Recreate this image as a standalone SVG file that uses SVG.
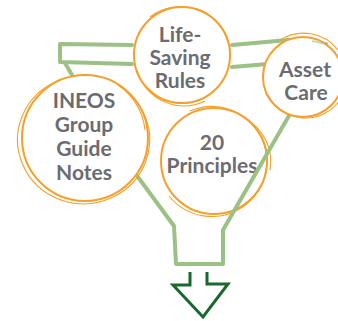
<svg xmlns="http://www.w3.org/2000/svg" width="338" height="321" viewBox="0 0 338 321">
<style>
.bg{fill:#ffffff}
.c1{fill:#ffffff;stroke:#f5a02c;stroke-width:2}
.c2{fill:none;stroke:#f5a02c;stroke-width:1.1}
.f{fill:none;stroke:#9cc184;stroke-width:4;stroke-linecap:round;stroke-linejoin:round}
.ar{fill:none;stroke:#17692d;stroke-width:3;stroke-linejoin:miter}
.t{font-family:Lato,"Liberation Sans",sans-serif;font-weight:bold;font-size:21px;fill:#6b6c70;text-anchor:middle}
</style>
<rect class="bg" x="0" y="0" width="338" height="321"/>
<g id="principles">
<circle class="c1" cx="214" cy="161" r="53"/>
<path class="c2" d="M190 111 A55 55 0 1 1 169 196"/>
<path class="c2" d="M245 118 A57 52 0 0 1 270 170"/>
<text class="t" x="212" y="150">20</text>
<text class="t" x="212" y="173">Principles</text>
</g>
<g id="connectors">
<path class="f" d="M132 45 L60 44 L60 62 L132 64"/>
<path class="f" d="M65 63 L72 75 L135 173 L174 226 L176 264 L223 264 L223 230 L290 114"/>
<path class="f" d="M232 45 L288 40 L326 44"/>
<path class="f" d="M232 67 L268 64"/>
</g>
<g id="ineos">
<circle class="c1" cx="85" cy="138" r="63"/>
<path class="c2" d="M60 80 A66 64 0 1 0 142 110"/>
<path class="c2" d="M118 85 A62 62 0 0 1 145 130"/>
<text class="t" x="84" y="108">INEOS</text>
<text class="t" x="84" y="132">Group</text>
<text class="t" x="84" y="156">Guide</text>
<text class="t" x="84" y="180">Notes</text>
</g>
<g id="life">
<circle class="c1" cx="182" cy="55" r="48"/>
<path class="c2" d="M150 17 A50 50 0 0 1 230 50"/>
<path class="c2" d="M137 70 A49 50 0 0 0 205 101"/>
<text class="t" x="180" y="42">Life-</text>
<text class="t" x="180" y="65">Saving</text>
<text class="t" x="180" y="88">Rules</text>
</g>
<g id="asset">
<circle class="c1" cx="303" cy="77" r="40"/>
<path class="c2" d="M268 95 A42 42 0 0 0 340 100"/>
<path class="c2" d="M280 40 A43 42 0 0 1 338 50"/>
<path d="M312 41 L326 44" fill="none" stroke="#9cc184" stroke-width="2" opacity="0.6"/>
<text class="t" x="305" y="77">Asset</text>
<text class="t" x="306" y="100">Care</text>
</g>
<g id="arrow">
<path class="ar" d="M190 272 L190 285 L173 285 L203 317 L228 284 L207 284 L207 272"/>
</g>
</svg>
